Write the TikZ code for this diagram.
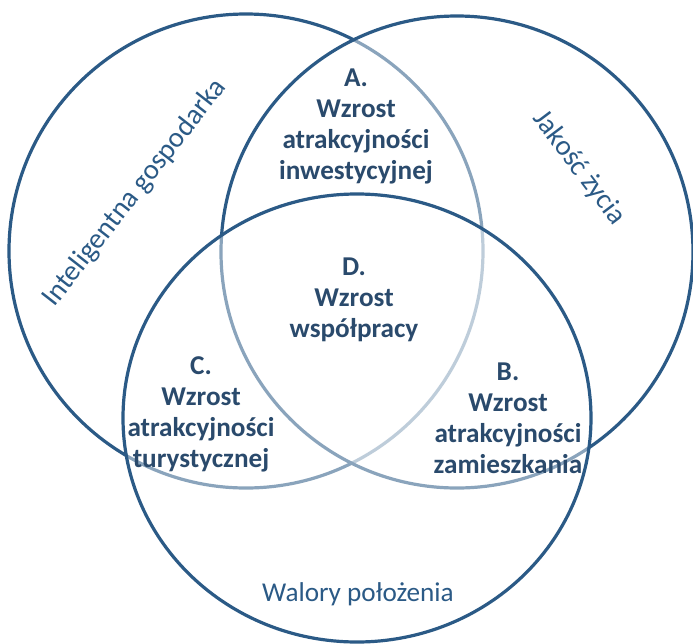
\documentclass[tikz,border=0pt]{standalone}
\usepackage{fontspec}
\setmainfont{Carlito}
\usepackage{xcolor}
\definecolor{ringblue}{HTML}{2B5A86}
\definecolor{inkblue}{HTML}{2A4A6C}
\tikzset{
  ring/.style={draw=ringblue, line width=1.6pt, fill=white, fill opacity=0.45},
  area/.style={align=center, text=inkblue, font=\bfseries\fontsize{13.6}{15.5}\selectfont},
  field/.style={text=ringblue, font=\fontsize{13.6}{16}\selectfont},
  tilted/.style={text=ringblue, font=\fontsize{14.3}{16}\selectfont}
}

\begin{document}
\begin{tikzpicture}[x=0.5pt,y=-0.5pt]
    \useasboundingbox (0,0) rectangle (693,644);
    \draw[ring] (246,251) circle [radius=237];
    \draw[ring] (457,252) circle [radius=236];
    \draw[ring] (357,418) ellipse [x radius=234, y radius=224];
    \node[tilted,rotate=52] (smart) at (135,193) {Inteligentna gospodarka};
    \node[tilted,rotate=-53] (life) at (579,168) {Jakość życia};
    \node[field] (place) at (358,594) {Walory położenia};
    \node[area] (a) at (356,126) {A.\\Wzrost\\atrakcyjności\\inwestycyjnej};
    \node[area] (d) at (354,300) {D.\\Wzrost\\współpracy};
    \node[area] (c) at (201,414) {C.\\Wzrost\\atrakcyjności\\turystycznej};
    \node[area] (b) at (508,418) {B.\\Wzrost\\atrakcyjności\\zamieszkania};
  \end{tikzpicture}
\end{document}
